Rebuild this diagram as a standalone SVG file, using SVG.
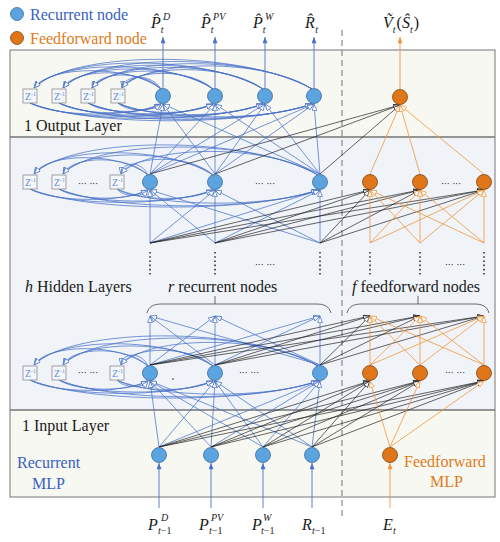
<svg xmlns="http://www.w3.org/2000/svg" width="500" height="542" viewBox="0 0 500 542">
<defs>
<style>
.nb{fill:#5ba4e0;stroke:#3b6b9c;stroke-width:.8}
.no{fill:#e0761a;stroke:#7d4612;stroke-width:.8}
.lb line,.lb path{stroke:#4a72c8;stroke-width:.75;fill:none;marker-end:url(#hb)}
.lk line{stroke:#222;stroke-width:.7;marker-end:url(#hk)}
.lo line{stroke:#f0963c;stroke-width:.8;marker-end:url(#ho)}
.z rect{fill:#f4f6f9;stroke:#8c8c8c;stroke-width:.8}
.z text{font-family:'Liberation Serif','Times New Roman',serif;font-size:10px;fill:#5f8fd8}
.t{font-family:'Liberation Serif','Times New Roman',serif;font-size:16px;fill:#1a1a1a}
.mi{font-family:'Liberation Serif','Times New Roman',serif;font-size:16px;font-style:italic;fill:#1a1a1a}
.sm{font-size:10px}
.up{font-style:normal}
.dots{font-family:'DejaVu Sans',sans-serif;font-size:9px;fill:#222;text-anchor:middle}
.ve line{stroke:#333;stroke-width:1.6;stroke-dasharray:1.6 2.6}
.br{fill:none;stroke:#444;stroke-width:.8}
</style>
<marker id="hb" viewBox="0 0 10 8" refX="10" refY="4" markerWidth="7" markerHeight="5.6" markerUnits="userSpaceOnUse" orient="auto"><path d="M0.5,0.5 L9.5,4 L0.5,7.5 z" fill="#fff" stroke="#4a72c8" stroke-width="1.1"/></marker>
<marker id="hk" viewBox="0 0 10 8" refX="10" refY="4" markerWidth="7" markerHeight="5.6" markerUnits="userSpaceOnUse" orient="auto"><path d="M0.5,0.5 L9.5,4 L0.5,7.5 z" fill="#fff" stroke="#222" stroke-width="1.1"/></marker>
<marker id="ho" viewBox="0 0 10 8" refX="10" refY="4" markerWidth="7" markerHeight="5.6" markerUnits="userSpaceOnUse" orient="auto"><path d="M0.5,0.5 L9.5,4 L0.5,7.5 z" fill="#fff" stroke="#f0963c" stroke-width="1.1"/></marker>
<marker id="fb" viewBox="0 0 10 8" refX="10" refY="4" markerWidth="7" markerHeight="5" markerUnits="userSpaceOnUse" orient="auto"><path d="M0,0 L10,4 L0,8 z" fill="#4a72c8"/></marker>
<marker id="fo" viewBox="0 0 10 8" refX="10" refY="4" markerWidth="7" markerHeight="5" markerUnits="userSpaceOnUse" orient="auto"><path d="M0,0 L10,4 L0,8 z" fill="#f0963c"/></marker>
</defs>

<g id="panels">
<rect x="10" y="50" width="485" height="87" fill="#f8f8f3"/>
<rect x="10" y="137" width="485" height="273" fill="#f0f4f9"/>
<rect x="10" y="410" width="485" height="87" fill="#f8f8f3"/>
<line x1="10" y1="137" x2="495" y2="137" stroke="#333" stroke-width="1"/>
<line x1="10" y1="410" x2="495" y2="410" stroke="#333" stroke-width="1"/>
<rect x="10" y="50" width="485" height="447" fill="none" stroke="#777" stroke-width="1"/>
</g>
<line id="divider" x1="342" y1="30" x2="342" y2="516" stroke="#888" stroke-width="1.2" stroke-dasharray="6 4"/>

<g id="connectors">
<g class="lb">
<path d="M161,89 C129.75,64.7 49.95,64.7 34,88"/>
<path d="M161,89 C137,67.6 74.6,67.6 63,88"/>
<path d="M161,89 C144.25,70.5 99.25,70.5 92,88"/>
<path d="M161,89 C151.75,73.5 124.75,73.5 122,88"/>
<path d="M213,89 C168.75,59.5 57.75,59.5 34,88"/>
<path d="M213,89 C176,62.4 82.4,62.4 63,88"/>
<path d="M213,89 C183.25,65.3 107.05,65.3 92,88"/>
<path d="M213,89 C190.75,68.3 132.55,68.3 122,88"/>
<path d="M263,89 C206.25,54.5 65.25,54.5 34,88"/>
<path d="M263,89 C213.5,57.4 89.9,57.4 63,88"/>
<path d="M263,89 C220.75,60.3 114.55,60.3 92,88"/>
<path d="M263,89 C228.25,63.3 140.05,63.3 122,88"/>
<path d="M312,89 C243,49.6 72.6,49.6 34,88"/>
<path d="M312,89 C250.25,52.5 97.25,52.5 63,88"/>
<path d="M312,89 C257.5,55.4 121.9,55.4 92,88"/>
<path d="M312,89 C265,58.4 147.4,58.4 122,88"/>
<path d="M30,103 C56.6,117 129.75,118 161,104"/>
<path d="M59,103 C79.8,115.2 137,116.2 161,104"/>
<path d="M88,103 C103,113.5 144.25,114.5 161,104"/>
<path d="M118,103 C127,111.7 151.75,112.7 161,104"/>
<path d="M30,103 C67,120.1 168.75,121.1 213,104"/>
<path d="M59,103 C90.2,118.4 176,119.4 213,104"/>
<path d="M88,103 C113.4,116.6 183.25,117.6 213,104"/>
<path d="M118,103 C137.4,114.8 190.75,115.8 213,104"/>
<path d="M30,103 C77,123.1 206.25,124.1 263,104"/>
<path d="M59,103 C100.2,121.4 213.5,122.4 263,104"/>
<path d="M88,103 C123.4,119.6 220.75,120.6 263,104"/>
<path d="M118,103 C147.4,117.8 228.25,118.8 263,104"/>
<path d="M30,103 C86.8,126 243,127 312,104"/>
<path d="M59,103 C110,124.3 250.25,125.3 312,104"/>
<path d="M88,103 C133.2,122.6 257.5,123.6 312,104"/>
<path d="M118,103 C157.2,120.8 265,121.8 312,104"/>
</g>
<g class="lb">
<path d="M148,175 C120,152 48,152 34,174"/>
<path d="M148,175 C127.25,154.9 72.65,154.9 63,174"/>
<path d="M148,175 C141.75,160.7 121.95,160.7 121,174"/>
<path d="M213,175 C168.75,145.5 57.75,145.5 34,174"/>
<path d="M213,175 C176,148.4 82.4,148.4 63,174"/>
<path d="M213,175 C190.5,154.2 131.7,154.2 121,174"/>
<path d="M318,175 C247.5,135 73.5,135 34,174"/>
<path d="M318,175 C254.75,137.9 98.15,137.9 63,174"/>
<path d="M318,175 C269.25,143.7 147.45,143.7 121,174"/>
<path d="M30,189 C54,202.2 120,203.2 148,190"/>
<path d="M59,189 C77.2,200.5 127.25,201.5 148,190"/>
<path d="M117,189 C123.6,197 141.75,198 148,190"/>
<path d="M30,189 C67,206.1 168.75,207.1 213,190"/>
<path d="M59,189 C90.2,204.4 176,205.4 213,190"/>
<path d="M117,189 C136.6,200.9 190.5,201.9 213,190"/>
<path d="M30,189 C88,212.4 247.5,213.4 318,190"/>
<path d="M59,189 C111.2,210.7 254.75,211.7 318,190"/>
<path d="M117,189 C157.6,207.2 269.25,208.2 318,190"/>
</g>
<g class="lb">
<path d="M148,366 C120,343 48,343 34,365"/>
<path d="M148,366 C127.25,345.9 72.65,345.9 63,365"/>
<path d="M148,366 C141.75,351.7 121.95,351.7 121,365"/>
<path d="M213,366 C168.75,336.5 57.75,336.5 34,365"/>
<path d="M213,366 C176,339.4 82.4,339.4 63,365"/>
<path d="M213,366 C190.5,345.2 131.7,345.2 121,365"/>
<path d="M318,366 C247.5,326 73.5,326 34,365"/>
<path d="M318,366 C254.75,328.9 98.15,328.9 63,365"/>
<path d="M318,366 C269.25,334.7 147.45,334.7 121,365"/>
<path d="M30,380 C54,393.2 120,394.2 148,381"/>
<path d="M59,380 C77.2,391.5 127.25,392.5 148,381"/>
<path d="M117,380 C123.6,388 141.75,389 148,381"/>
<path d="M30,380 C67,397.1 168.75,398.1 213,381"/>
<path d="M59,380 C90.2,395.4 176,396.4 213,381"/>
<path d="M117,380 C136.6,391.9 190.5,392.9 213,381"/>
<path d="M30,380 C88,403.4 247.5,404.4 318,381"/>
<path d="M59,380 C111.2,401.7 254.75,402.7 318,381"/>
<path d="M117,380 C157.6,398.2 269.25,399.2 318,381"/>
</g>

<g class="lb">
<line x1="150" y1="174" x2="163" y2="104"/>
<line x1="150" y1="174" x2="215" y2="104"/>
<line x1="150" y1="174" x2="265" y2="104"/>
<line x1="150" y1="174" x2="314" y2="104"/>
<line x1="215" y1="174" x2="163" y2="104"/>
<line x1="215" y1="174" x2="215" y2="104"/>
<line x1="215" y1="174" x2="265" y2="104"/>
<line x1="215" y1="174" x2="314" y2="104"/>
<line x1="320" y1="174" x2="163" y2="104"/>
<line x1="320" y1="174" x2="215" y2="104"/>
<line x1="320" y1="174" x2="265" y2="104"/>
<line x1="320" y1="174" x2="314" y2="104"/>
</g>
<g class="lk">
<line x1="150" y1="174" x2="400" y2="105"/>
<line x1="215" y1="174" x2="400" y2="105"/>
<line x1="320" y1="174" x2="400" y2="105"/>
</g>
<g class="lo">
<line x1="370" y1="174" x2="400" y2="105"/>
<line x1="420" y1="174" x2="400" y2="105"/>
<line x1="484" y1="174" x2="400" y2="105"/>
</g>

<g class="lb">
<line x1="150" y1="243" x2="150" y2="190"/>
<line x1="150" y1="243" x2="215" y2="190"/>
<line x1="150" y1="243" x2="320" y2="190"/>
<line x1="215" y1="243" x2="150" y2="190"/>
<line x1="215" y1="243" x2="215" y2="190"/>
<line x1="215" y1="243" x2="320" y2="190"/>
<line x1="320" y1="243" x2="150" y2="190"/>
<line x1="320" y1="243" x2="215" y2="190"/>
<line x1="320" y1="243" x2="320" y2="190"/>
</g>
<g class="lk">
<line x1="150" y1="243" x2="370" y2="190"/>
<line x1="150" y1="243" x2="420" y2="190"/>
<line x1="150" y1="243" x2="484" y2="190"/>
<line x1="215" y1="243" x2="370" y2="190"/>
<line x1="215" y1="243" x2="420" y2="190"/>
<line x1="215" y1="243" x2="484" y2="190"/>
<line x1="320" y1="243" x2="370" y2="190"/>
<line x1="320" y1="243" x2="420" y2="190"/>
<line x1="320" y1="243" x2="484" y2="190"/>
</g>
<g class="lo">
<line x1="370" y1="243" x2="370" y2="190"/>
<line x1="370" y1="243" x2="420" y2="190"/>
<line x1="370" y1="243" x2="484" y2="190"/>
<line x1="420" y1="243" x2="370" y2="190"/>
<line x1="420" y1="243" x2="420" y2="190"/>
<line x1="420" y1="243" x2="484" y2="190"/>
<line x1="484" y1="243" x2="370" y2="190"/>
<line x1="484" y1="243" x2="420" y2="190"/>
<line x1="484" y1="243" x2="484" y2="190"/>
</g>

<g class="lb">
<line x1="150" y1="365" x2="150" y2="316"/>
<line x1="150" y1="365" x2="215" y2="316"/>
<line x1="150" y1="365" x2="320" y2="316"/>
<line x1="215" y1="365" x2="150" y2="316"/>
<line x1="215" y1="365" x2="215" y2="316"/>
<line x1="215" y1="365" x2="320" y2="316"/>
<line x1="320" y1="365" x2="150" y2="316"/>
<line x1="320" y1="365" x2="215" y2="316"/>
<line x1="320" y1="365" x2="320" y2="316"/>
</g>
<g class="lk">
<line x1="150" y1="365" x2="370" y2="316"/>
<line x1="150" y1="365" x2="420" y2="316"/>
<line x1="150" y1="365" x2="484" y2="316"/>
<line x1="215" y1="365" x2="370" y2="316"/>
<line x1="215" y1="365" x2="420" y2="316"/>
<line x1="215" y1="365" x2="484" y2="316"/>
<line x1="320" y1="365" x2="370" y2="316"/>
<line x1="320" y1="365" x2="420" y2="316"/>
<line x1="320" y1="365" x2="484" y2="316"/>
</g>
<g class="lo">
<line x1="370" y1="365" x2="370" y2="316"/>
<line x1="370" y1="365" x2="420" y2="316"/>
<line x1="370" y1="365" x2="484" y2="316"/>
<line x1="420" y1="365" x2="370" y2="316"/>
<line x1="420" y1="365" x2="420" y2="316"/>
<line x1="420" y1="365" x2="484" y2="316"/>
<line x1="484" y1="365" x2="370" y2="316"/>
<line x1="484" y1="365" x2="420" y2="316"/>
<line x1="484" y1="365" x2="484" y2="316"/>
</g>

<g class="lb">
<line x1="159" y1="447" x2="150" y2="381"/>
<line x1="159" y1="447" x2="215" y2="381"/>
<line x1="159" y1="447" x2="320" y2="381"/>
<line x1="211" y1="447" x2="150" y2="381"/>
<line x1="211" y1="447" x2="215" y2="381"/>
<line x1="211" y1="447" x2="320" y2="381"/>
<line x1="263" y1="447" x2="150" y2="381"/>
<line x1="263" y1="447" x2="215" y2="381"/>
<line x1="263" y1="447" x2="320" y2="381"/>
<line x1="312" y1="447" x2="150" y2="381"/>
<line x1="312" y1="447" x2="215" y2="381"/>
<line x1="312" y1="447" x2="320" y2="381"/>
</g>
<g class="lk">
<line x1="159" y1="447" x2="370" y2="381"/>
<line x1="159" y1="447" x2="420" y2="381"/>
<line x1="159" y1="447" x2="484" y2="381"/>
<line x1="211" y1="447" x2="370" y2="381"/>
<line x1="211" y1="447" x2="420" y2="381"/>
<line x1="211" y1="447" x2="484" y2="381"/>
<line x1="263" y1="447" x2="370" y2="381"/>
<line x1="263" y1="447" x2="420" y2="381"/>
<line x1="263" y1="447" x2="484" y2="381"/>
<line x1="312" y1="447" x2="370" y2="381"/>
<line x1="312" y1="447" x2="420" y2="381"/>
<line x1="312" y1="447" x2="484" y2="381"/>
</g>
<g class="lo">
<line x1="390" y1="447" x2="370" y2="381"/>
<line x1="390" y1="447" x2="420" y2="381"/>
<line x1="390" y1="447" x2="484" y2="381"/>
</g>

<g stroke="#4a72c8" stroke-width="0.9" marker-end="url(#fb)">
<line x1="163" y1="88" x2="163" y2="37"/>
<line x1="215" y1="88" x2="215" y2="37"/>
<line x1="265" y1="88" x2="265" y2="37"/>
<line x1="314" y1="88" x2="314" y2="37"/>
<line x1="159" y1="508" x2="159" y2="463"/>
<line x1="211" y1="508" x2="211" y2="463"/>
<line x1="263" y1="508" x2="263" y2="463"/>
<line x1="312" y1="508" x2="312" y2="463"/>
</g>
<g stroke="#f0963c" stroke-width="0.9" marker-end="url(#fo)">
<line x1="400" y1="89" x2="400" y2="37"/>
<line x1="390" y1="508" x2="390" y2="463"/>
</g>
</g>

<g class="ve">
<line x1="150" y1="252" x2="150" y2="277"/>
<line x1="215" y1="252" x2="215" y2="277"/>
<line x1="320" y1="252" x2="320" y2="277"/>
<line x1="370" y1="252" x2="370" y2="277"/>
<line x1="420" y1="252" x2="420" y2="277"/>
<line x1="484" y1="252" x2="484" y2="277"/>
</g>
<path class="br" d="M147,313 C149,306 154,304 162,304 L316,304 C324,304 329,306 331,313 M215,304 L215,296"/>
<path class="br" d="M347,313 C349,306 354,304 362,304 L474,304 C482,304 487,306 489,313 M418,304 L418,296"/>
<circle cx="173" cy="379" r="0.8" fill="#222"/>

<g id="z-o1" class="z"><rect x="23" y="89" width="14" height="14"/><text x="25" y="100">Z<tspan font-size="6" dy="-4">-1</tspan></text></g>
<g id="z-o2" class="z"><rect x="52" y="89" width="14" height="14"/><text x="54" y="100">Z<tspan font-size="6" dy="-4">-1</tspan></text></g>
<g id="z-o3" class="z"><rect x="81" y="89" width="14" height="14"/><text x="83" y="100">Z<tspan font-size="6" dy="-4">-1</tspan></text></g>
<g id="z-o4" class="z"><rect x="111" y="89" width="14" height="14"/><text x="113" y="100">Z<tspan font-size="6" dy="-4">-1</tspan></text></g>
<g id="z-h1" class="z"><rect x="23" y="175" width="14" height="14"/><text x="25" y="186">Z<tspan font-size="6" dy="-4">-1</tspan></text></g>
<g id="z-h2" class="z"><rect x="52" y="175" width="14" height="14"/><text x="54" y="186">Z<tspan font-size="6" dy="-4">-1</tspan></text></g>
<g id="z-h3" class="z"><rect x="110" y="175" width="14" height="14"/><text x="112" y="186">Z<tspan font-size="6" dy="-4">-1</tspan></text></g>
<g id="z-b1" class="z"><rect x="23" y="366" width="14" height="14"/><text x="25" y="377">Z<tspan font-size="6" dy="-4">-1</tspan></text></g>
<g id="z-b2" class="z"><rect x="52" y="366" width="14" height="14"/><text x="54" y="377">Z<tspan font-size="6" dy="-4">-1</tspan></text></g>
<g id="z-b3" class="z"><rect x="110" y="366" width="14" height="14"/><text x="112" y="377">Z<tspan font-size="6" dy="-4">-1</tspan></text></g>

<g id="out-pd"><circle cx="163" cy="96" r="7.5" class="nb"/></g>
<g id="out-ppv"><circle cx="215" cy="96" r="7.5" class="nb"/></g>
<g id="out-pw"><circle cx="265" cy="96" r="7.5" class="nb"/></g>
<g id="out-r"><circle cx="314" cy="96" r="7.5" class="nb"/></g>
<g id="out-v"><circle cx="400" cy="97" r="7.5" class="no"/></g>
<g id="ht-r1"><circle cx="150" cy="182" r="7.5" class="nb"/></g>
<g id="ht-r2"><circle cx="215" cy="182" r="7.5" class="nb"/></g>
<g id="ht-r3"><circle cx="320" cy="182" r="7.5" class="nb"/></g>
<g id="ht-f1"><circle cx="370" cy="182" r="7.5" class="no"/></g>
<g id="ht-f2"><circle cx="420" cy="182" r="7.5" class="no"/></g>
<g id="ht-f3"><circle cx="484" cy="182" r="7.5" class="no"/></g>
<g id="hb-r1"><circle cx="150" cy="373" r="7.5" class="nb"/></g>
<g id="hb-r2"><circle cx="215" cy="373" r="7.5" class="nb"/></g>
<g id="hb-r3"><circle cx="320" cy="373" r="7.5" class="nb"/></g>
<g id="hb-f1"><circle cx="370" cy="373" r="7.5" class="no"/></g>
<g id="hb-f2"><circle cx="420" cy="373" r="7.5" class="no"/></g>
<g id="hb-f3"><circle cx="484" cy="373" r="7.5" class="no"/></g>
<g id="in-pd"><circle cx="159" cy="455" r="7.5" class="nb"/></g>
<g id="in-ppv"><circle cx="211" cy="455" r="7.5" class="nb"/></g>
<g id="in-pw"><circle cx="263" cy="455" r="7.5" class="nb"/></g>
<g id="in-r"><circle cx="312" cy="455" r="7.5" class="nb"/></g>
<g id="in-e"><circle cx="390" cy="455" r="7.5" class="no"/></g>

<g class="dots">
<text x="88" y="187">··· ···</text>
<text x="265" y="187">··· ···</text>
<text x="451" y="187">··· ···</text>
<text x="265" y="268">··· ···</text>
<text x="455" y="268">··· ···</text>
<text x="88" y="376">··· ···</text>
<text x="249" y="376">··· ···</text>
<text x="455" y="376">··· ···</text>
</g>

<g id="legend">
<circle cx="17" cy="14" r="6.5" class="nb"/>
<text x="30" y="20" class="t" style="fill:#3a60c0">Recurrent node</text>
<circle cx="17" cy="38" r="6.5" class="no"/>
<text x="30" y="44" class="t" style="fill:#e07b20">Feedforward node</text>
</g>

<text x="24" y="131" class="t">1 Output Layer</text>
<text x="25" y="292" class="t"><tspan font-style="italic">h</tspan> Hidden Layers</text>
<text x="168" y="292" class="t"><tspan font-style="italic">r</tspan> recurrent nodes</text>
<text x="352" y="292" class="t"><tspan font-style="italic">f</tspan> feedforward nodes</text>
<text x="22" y="431" class="t">1 Input Layer</text>
<text x="17" y="468" class="t" style="fill:#3a60c0">Recurrent</text>
<text x="32" y="489" class="t" style="fill:#3a60c0">MLP</text>
<text x="404" y="467" class="t" style="fill:#e07b20">Feedforward</text>
<text x="430" y="487" class="t" style="fill:#e07b20">MLP</text>

<g id="lbl-out">
<text x="151" y="28" class="mi">P&#x302;<tspan class="sm" dy="5">t</tspan><tspan class="sm" dx="-0.5" dy="-13">D</tspan></text>
<text x="201" y="28" class="mi">P&#x302;<tspan class="sm" dy="5">t</tspan><tspan class="sm" dx="-0.5" dy="-13">PV</tspan></text>
<text x="253" y="28" class="mi">P&#x302;<tspan class="sm" dy="5">t</tspan><tspan class="sm" dx="-0.5" dy="-13">W</tspan></text>
<text x="305" y="28" class="mi">R&#x302;<tspan class="sm" dx="0.5" dy="5">t</tspan></text>
<text x="383" y="28" class="mi">&#x1E7C;<tspan class="sm" dy="5">t</tspan><tspan class="up" dx="1" dy="-5">(</tspan>&#x15C;<tspan class="sm" dy="5">t</tspan><tspan class="up" dx="1" dy="-5">)</tspan></text>
</g>

<g id="lbl-in">
<text x="148" y="530" class="mi">P</text><text x="161" y="521" class="mi sm">D</text><text x="158" y="534" class="mi sm">t<tspan class="up">−1</tspan></text>
<text x="199" y="530" class="mi">P</text><text x="211" y="521" class="mi sm">PV</text><text x="209" y="534" class="mi sm">t<tspan class="up">−1</tspan></text>
<text x="252" y="530" class="mi">P</text><text x="263" y="521" class="mi sm">W</text><text x="261" y="534" class="mi sm">t<tspan class="up">−1</tspan></text>
<text x="302" y="530" class="mi">R</text><text x="312" y="534" class="mi sm">t<tspan class="up">−1</tspan></text>
<text x="383" y="530" class="mi">E</text><text x="393" y="534" class="mi sm">t</text>
</g>
</svg>
